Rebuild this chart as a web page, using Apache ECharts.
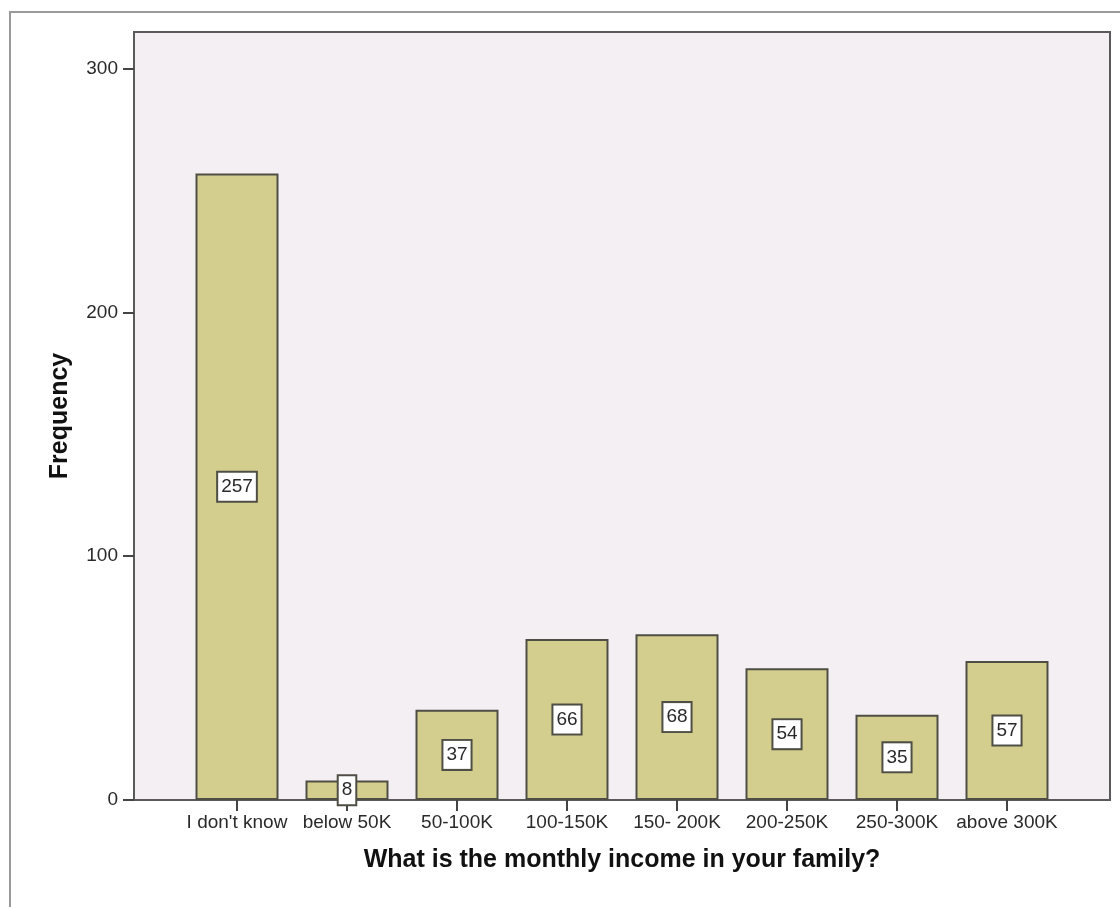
<!DOCTYPE html>
<html>
<head>
<meta charset="utf-8">
<script src="https://cdn.jsdelivr.net/npm/echarts@6/dist/echarts.min.js"></script>
<style>
  html, body { margin: 0; padding: 0; background: #ffffff; }
  #chart { width: 1120px; height: 907px; }
</style>
</head>
<body>
<div id="chart"></div>
<script>
// Income bands and their response counts
const categories = ['I don\'t know', 'below 50K', '50-100K', '100-150K', '150- 200K', '200-250K', '250-300K', 'above 300K'];
const frequencies = [257, 8, 37, 66, 68, 54, 35, 57];
const yTicks = { min: 0, max: 315, interval: 100 };

const FONT = '"Liberation Sans", Arial, sans-serif';
const TOP = 32, BOTTOM = 107;

const chart = echarts.init(document.getElementById('chart'), null, { renderer: 'canvas' });

chart.setOption({
  backgroundColor: '#ffffff',
  animation: false,
  graphic: [{
    type: 'rect',
    shape: { x: 10, y: 12, width: 1200, height: 1000 },
    style: { fill: 'none', stroke: '#9a9a9a', lineWidth: 2 },
    silent: true,
    z: 0
  }],
  grid: [
    // framed plot area
    { left: 134, right: 10, top: TOP, bottom: BOTTOM, show: true,
      backgroundColor: '#f4eff3', borderColor: '#5a5a5a', borderWidth: 2 },
    // band area holding the bars
    { left: 182, right: 58, top: TOP, bottom: BOTTOM }
  ],
  xAxis: [
    { gridIndex: 0, type: 'value', show: false, min: 0, max: 1 },
    {
      gridIndex: 1,
      type: 'category',
      data: categories,
      axisLine: { show: false },
      axisTick: { show: true, alignWithLabel: true, length: 11, lineStyle: { color: '#444', width: 2 } },
      axisLabel: { fontFamily: FONT, fontSize: 19, color: '#2a2a2a', margin: 13, interval: 0 },
      name: 'What is the monthly income in your family?',
      nameLocation: 'middle',
      nameGap: 48,
      nameTextStyle: { fontFamily: FONT, fontSize: 25, fontWeight: 'bold', color: '#111' }
    }
  ],
  yAxis: [
    {
      gridIndex: 0,
      type: 'value',
      min: yTicks.min,
      max: yTicks.max,
      interval: yTicks.interval,
      axisLine: { show: true, lineStyle: { color: '#5a5a5a', width: 2 } },
      axisTick: { show: true, length: 11, lineStyle: { color: '#444', width: 2 } },
      axisLabel: { fontFamily: FONT, fontSize: 19, color: '#2a2a2a', margin: 16,
        showMaxLabel: false },
      splitLine: { show: false },
      name: 'Frequency',
      nameLocation: 'middle',
      nameGap: 61,
      nameRotate: 90,
      nameTextStyle: { fontFamily: FONT, fontSize: 25, fontWeight: 'bold', color: '#111' }
    },
    { gridIndex: 1, type: 'value', min: yTicks.min, max: yTicks.max, show: false }
  ],
  series: [{
    type: 'bar',
    xAxisIndex: 1,
    yAxisIndex: 1,
    data: frequencies,
    barWidth: 83,
    itemStyle: { color: '#d4ce8e', borderColor: '#4e4e44', borderWidth: 2 },
    label: {
      show: true,
      position: 'inside',
      fontFamily: FONT,
      fontSize: 19,
      color: '#2a2a2a',
      backgroundColor: '#ffffff',
      borderColor: '#4e4e44',
      borderWidth: 2,
      padding: [5, 3, 4, 3]
    }
  }]
});
</script>
</body>
</html>
